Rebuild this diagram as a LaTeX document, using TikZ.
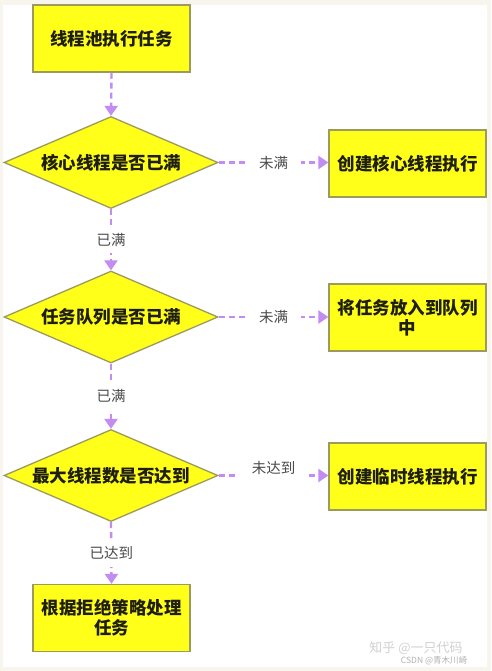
\documentclass[tikz,border=0pt]{standalone}
\usepackage{fontspec}
\setmainfont{Noto Sans CJK SC}
\usetikzlibrary{shapes.geometric,arrows.meta}
\definecolor{bgbeige}{HTML}{F7F5EE}
\definecolor{boxfill}{HTML}{FFFF1A}
\definecolor{boxline}{HTML}{9C9A5C}
\definecolor{arrowc}{HTML}{C28CF2}
\definecolor{labelc}{HTML}{4A4A4A}
\definecolor{textc}{HTML}{1E1E14}
\tikzset{
  box/.style={draw=boxline, line width=1.3pt, fill=boxfill, minimum width=157pt, minimum height=67pt,
    inner sep=2pt, align=center, text=textc, font=\fontsize{17.5}{20}\selectfont\bfseries},
  dia/.style={diamond, draw=boxline, line width=1.3pt, fill=boxfill, aspect=2.3, minimum width=214pt,
    minimum height=92pt, inner sep=0pt, text=textc, font=\fontsize{17.5}{20}\selectfont\bfseries},
  flow/.style={draw=arrowc, line width=2.4pt, dash pattern=on 6pt off 4pt,
    -{Triangle[width=13pt,length=10pt]}},
  lab/.style={fill=white, text=labelc, font=\fontsize{14.5}{15}\selectfont, inner xsep=13pt, inner ysep=7pt},
  wm/.style={text=black!18, inner sep=0pt}
}
\begin{document}
\begin{tikzpicture}[x=1pt,y=-1pt]
\fill[bgbeige] (0,0) rectangle (491,671);
\fill[white] (3,5) rectangle (487,667);
\useasboundingbox (0,0) rectangle (491,671);

\node[box] (start) at (111.5,38.5) {线程池执行任务};
\node[dia] (d1) at (111,162.5) {核心线程是否已满};
\node[box] (b1) at (407.5,163.5) {创建核心线程执行};
\node[dia] (d2) at (111,317) {任务队列是否已满};
\node[box] (b2) at (407.5,317.5) {将任务放入到队列\\中};
\node[dia] (d3) at (111,475.5) {最大线程数是否达到};
\node[box] (b3) at (407.5,476.5) {创建临时线程执行};
\node[box] (end) at (111.5,618) {根据拒绝策略处理\\任务};

\draw[flow] (start.south) -- (d1.north);
\draw[flow] (d1.east) -- node[lab] {未满} (b1.west |- d1.east);
\draw[flow] (d1.south) -- node[lab] {已满} (d2.north);
\draw[flow] (d2.east) -- node[lab] {未满} (b2.west |- d2.east);
\draw[flow] (d2.south) -- node[lab] {已满} (d3.north);
\draw[flow] (d3.east) -- node[lab, yshift=8pt] {未达到} (b3.west |- d3.east);
\draw[flow] (d3.south) -- node[lab] {已达到} (end.north);

\node[wm, font=\fontsize{13}{13}\selectfont] (wm1) at (416,648) {知乎 @一只代码};
\node[wm, text=black!30, font=\fontsize{8.5}{9}\selectfont] (wm2) at (434,661) {CSDN @青木川崎};
\end{tikzpicture}
\end{document}
